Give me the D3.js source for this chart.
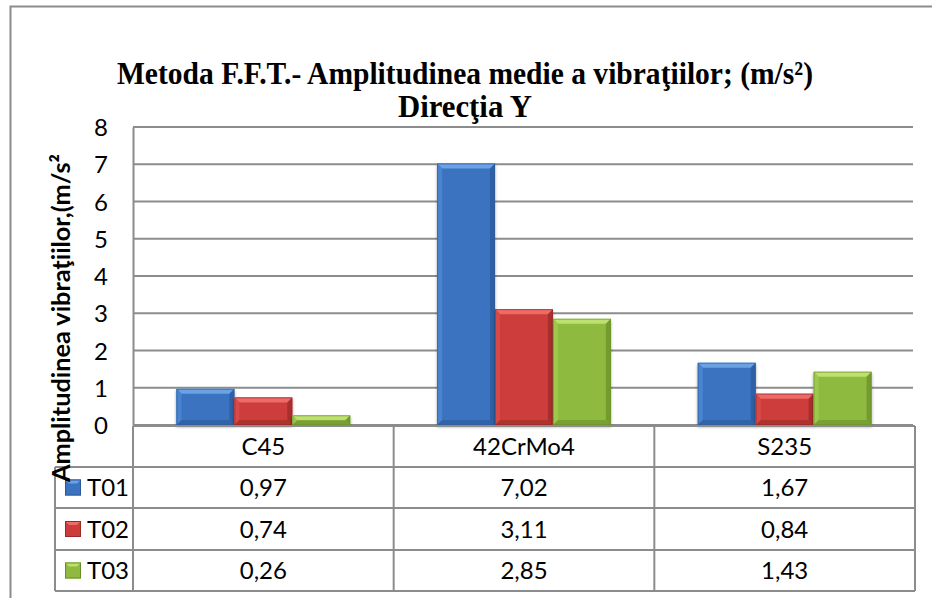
<!DOCTYPE html>
<html>
<head>
<meta charset="utf-8">
<script src="https://cdn.jsdelivr.net/npm/d3@7"></script>
<style>
  body { margin: 0; background: #fff; }
  svg { display: block; }
</style>
</head>
<body>
<div id="chart"></div>
<script>
const categories = ['C45', '42CrMo4', 'S235'];
const seriesNames = ['T01', 'T02', 'T03'];
const t01 = [0.97, 7.02, 1.67];
const t02 = [0.74, 3.11, 0.84];
const t03 = [0.26, 2.85, 1.43];
const yTicks = [0, 1, 2, 3, 4, 5, 6, 7, 8];

const seriesValues = [t01, t02, t03];
const palette = {
    T01: { main: '#3b73c1', light: '#69a3e6', side: '#4a84d0', dark: '#2b5a99' },
    T02: { main: '#cc3c3a', light: '#ee6b67', side: '#d84a47', dark: '#9a2a28' },
    T03: { main: '#8fba3f', light: '#bde06f', side: '#9cc84c', dark: '#6a8f2a' }
};

let width = 932;
let height = 598;
let plot = { left: 133, right: 915, top: 127, bottom: 425 };
let rowH = [426, 467, 508, 550, 591];
let legendLeft = 55;
let gridColor = '#8c8c8c';
let labelFont = 'Lato, "Open Sans", sans-serif';
let labelSize = 24;

let svg = d3.select('#chart').append('svg')
    .attr('width', width)
    .attr('height', height);

// chart frame (only top and left edges show)
svg.append('path')
    .attr('d', `M10.5,${height} V6.5 H${width}`)
    .attr('fill', 'none')
    .attr('stroke', '#8c8c8c')
    .attr('stroke-width', 2);

let x0 = d3.scaleBand()
    .domain(categories)
    .range([plot.left, plot.right]);

let x1 = d3.scaleBand()
    .domain(seriesNames)
    .range([0, x0.bandwidth()])
    .paddingInner(0)
    .paddingOuter(0.75);

let y = d3.scaleLinear()
    .domain([0, 8])
    .range([plot.bottom, plot.top]);

// gridlines
svg.append('g').selectAll('line').data(yTicks).enter().append('line')
    .attr('x1', plot.left)
    .attr('x2', plot.right - 2)
    .attr('y1', d => y(d))
    .attr('y2', d => y(d))
    .attr('stroke', gridColor)
    .attr('stroke-width', 1.8);

// y axis
let yAxis = svg.append('g')
    .attr('transform', `translate(${plot.left}, 0)`)
    .call(d3.axisLeft(y).tickValues(yTicks).tickSize(0).tickPadding(25));
yAxis.select('.domain').attr('stroke', gridColor).attr('stroke-width', 2);
yAxis.selectAll('text')
    .attr('font-family', labelFont)
    .attr('font-size', labelSize)
    .attr('fill', '#000')
    .attr('dy', '0.36em');

// bars with bevel
let defs = svg.append('defs');
let shadow = defs.append('filter').attr('id', 'shadow')
    .attr('x', '-10%').attr('y', '-10%').attr('width', '120%').attr('height', '120%');
shadow.append('feDropShadow')
    .attr('dx', 0).attr('dy', 2).attr('stdDeviation', 1.5)
    .attr('flood-color', '#000').attr('flood-opacity', 0.35);

let bevel = 5;
let bars = [];
seriesNames.forEach((s, si) => {
    categories.forEach((c, ci) => {
        bars.push({ series: s, category: c, value: seriesValues[si][ci] });
    });
});

let barG = svg.append('g').selectAll('g').data(bars).enter().append('g')
    .attr('filter', 'url(#shadow)');

barG.each(function (d) {
    let g = d3.select(this);
    let bx = x0(d.category) + x1(d.series);
    let bw = x1.bandwidth();
    let by = y(d.value);
    let bh = y(0) - by;
    let b = Math.min(bevel, bh / 2);
    let col = palette[d.series];
    g.append('rect')
        .attr('x', bx).attr('y', by)
        .attr('width', bw).attr('height', bh)
        .attr('fill', col.main);
    // top bevel
    g.append('path')
        .attr('d', `M${bx},${by} L${bx + bw},${by} L${bx + bw - b},${by + b} L${bx + b},${by + b} Z`)
        .attr('fill', col.light);
    // left bevel
    g.append('path')
        .attr('d', `M${bx},${by} L${bx + b},${by + b} L${bx + b},${by + bh - b} L${bx},${by + bh} Z`)
        .attr('fill', col.side);
    // right bevel
    g.append('path')
        .attr('d', `M${bx + bw},${by} L${bx + bw - b},${by + b} L${bx + bw - b},${by + bh - b} L${bx + bw},${by + bh} Z`)
        .attr('fill', col.dark).attr('opacity', 0.7);
    // bottom bevel
    g.append('path')
        .attr('d', `M${bx},${by + bh} L${bx + b},${by + bh - b} L${bx + bw - b},${by + bh - b} L${bx + bw},${by + bh} Z`)
        .attr('fill', col.dark).attr('opacity', 0.6);
    g.append('rect')
        .attr('x', bx + 0.5).attr('y', by + 0.5)
        .attr('width', bw - 1).attr('height', Math.max(bh - 1, 0))
        .attr('fill', 'none')
        .attr('stroke', col.dark).attr('stroke-width', 1).attr('opacity', 0.6);
});

// data table
let table = svg.append('g');
let lineAttrs = sel => sel.attr('stroke', gridColor).attr('stroke-width', 2);

table.append('line').call(lineAttrs)
    .attr('x1', plot.left).attr('x2', plot.right).attr('y1', rowH[0]).attr('y2', rowH[0]);
rowH.slice(1).forEach(r => {
    table.append('line').call(lineAttrs)
        .attr('x1', legendLeft).attr('x2', plot.right).attr('y1', r).attr('y2', r);
});
table.append('line').call(lineAttrs)
    .attr('x1', legendLeft).attr('x2', legendLeft).attr('y1', rowH[1]).attr('y2', rowH[4]);
let colEdges = categories.map(c => x0(c)).concat([plot.right]);
colEdges.forEach(cx => {
    table.append('line').call(lineAttrs)
        .attr('x1', cx).attr('x2', cx).attr('y1', rowH[0]).attr('y2', rowH[4]);
});

table.selectAll('.cat').data(categories).enter().append('text')
    .attr('x', c => x0(c) + x0.bandwidth() / 2)
    .attr('y', (rowH[0] + rowH[1]) / 2)
    .attr('dy', '0.36em')
    .attr('text-anchor', 'middle')
    .attr('font-family', labelFont)
    .attr('font-size', labelSize)
    .text(c => c);

seriesNames.forEach((s, si) => {
    let cy = (rowH[si + 1] + rowH[si + 2]) / 2;
    seriesValues[si].forEach((v, ci) => {
        table.append('text')
            .attr('x', x0(categories[ci]) + x0.bandwidth() / 2)
            .attr('y', cy)
            .attr('dy', '0.36em')
            .attr('text-anchor', 'middle')
            .attr('font-family', labelFont)
            .attr('font-size', labelSize)
            .text(v.toFixed(2).replace('.', ','));
    });
    let col = palette[s];
    let kx = 65, ky = cy - 8, ks = 16, kb = 4;
    let key = table.append('g');
    key.append('rect').attr('x', kx).attr('y', ky).attr('width', ks).attr('height', ks).attr('fill', col.main);
    key.append('path')
        .attr('d', `M${kx},${ky} L${kx + ks},${ky} L${kx + ks - kb},${ky + kb} L${kx + kb},${ky + kb} Z`)
        .attr('fill', col.light);
    key.append('rect').attr('x', kx + 0.5).attr('y', ky + 0.5).attr('width', ks - 1).attr('height', ks - 1)
        .attr('fill', 'none').attr('stroke', col.dark).attr('stroke-width', 1);
    table.append('text')
        .attr('x', 87)
        .attr('y', cy)
        .attr('dy', '0.36em')
        .attr('font-family', labelFont)
        .attr('font-size', labelSize)
        .text(s);
});

// y axis title
svg.append('text')
    .attr('transform', 'translate(70, 482) rotate(-90)')
    .attr('font-family', labelFont)
    .attr('font-weight', 'bold')
    .attr('font-size', 25)
    .attr('textLength', 328)
    .attr('lengthAdjust', 'spacingAndGlyphs')
    .text('Amplitudinea vibraţiilor,(m/s²');

// chart title
let title = svg.append('text')
    .attr('text-anchor', 'middle')
    .attr('font-family', '"Liberation Serif", "Times New Roman", serif')
    .attr('font-weight', 'bold')
    .attr('font-size', 32);
title.append('tspan').attr('x', 465).attr('y', 84)
    .attr('textLength', 696).attr('lengthAdjust', 'spacingAndGlyphs')
    .text('Metoda F.F.T.- Amplitudinea medie a vibraţiilor; (m/s²)');
title.append('tspan').attr('x', 465).attr('y', 117)
    .attr('textLength', 134).attr('lengthAdjust', 'spacingAndGlyphs')
    .text('Direcţia Y');
</script>
</body>
</html>
